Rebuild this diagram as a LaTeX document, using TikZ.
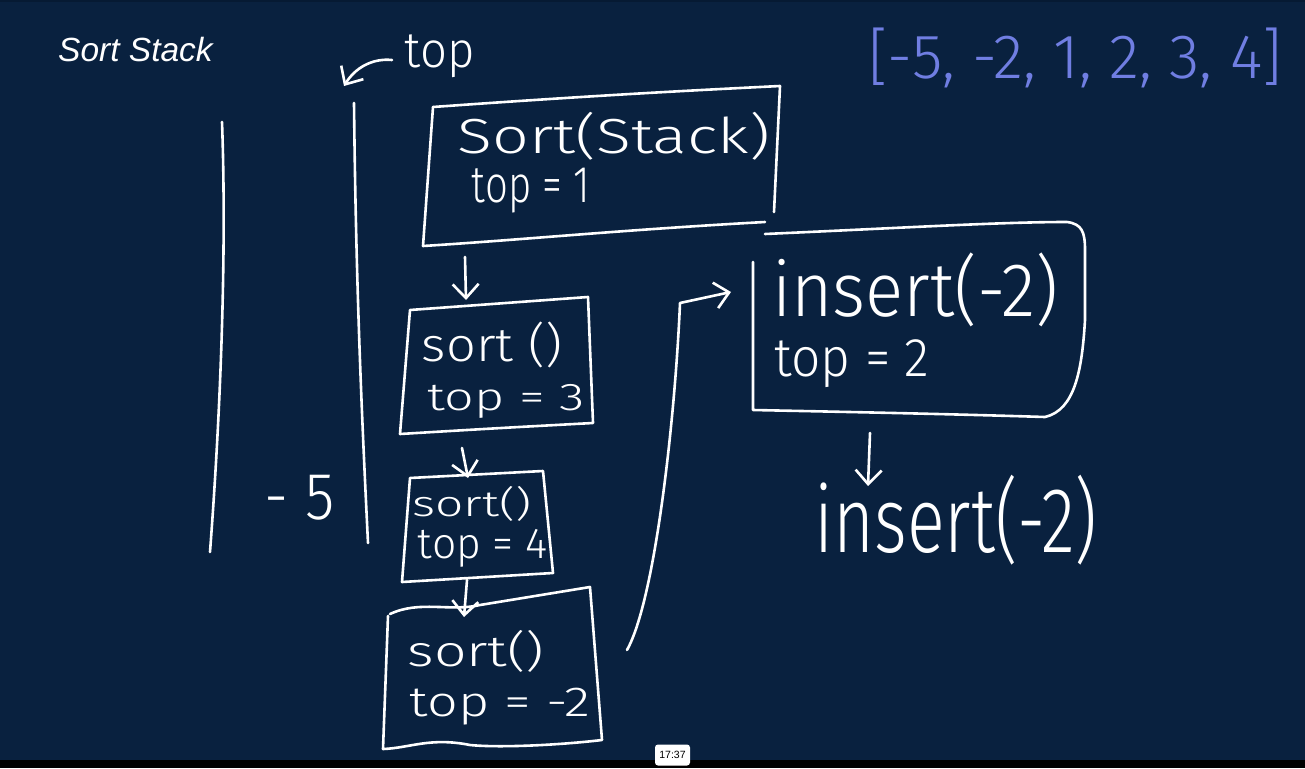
\documentclass[tikz,border=0pt]{standalone}
\usepackage{fontspec}
\usepackage{graphicx}
\setmainfont{Liberation Sans}
\newfontfamily\hand{Fira Sans Light}
\usetikzlibrary{arrows.meta}
\definecolor{bg}{HTML}{09213F}
\definecolor{bgtop}{HTML}{061A33}
\definecolor{listblue}{HTML}{707EE2}
\newcommand{\fitto}[3]{\resizebox*{#1pt}{#2pt}{\hand #3}}
\tikzset{
  ink/.style={draw=white, line width=2.6pt, line cap=round, line join=round},
  inkarrow/.style={ink, -{Straight Barb[length=14pt,width=26pt,line width=2.6pt]}},
  txt/.style={inner sep=0pt, text=white, anchor=center},
  bluetxt/.style={inner sep=0pt, text=listblue, anchor=center}
}
\begin{document}
\begin{tikzpicture}[x=1pt,y=-1pt]
\useasboundingbox (0,0) rectangle (1305,768);
\fill[bg] (0,0) rectangle (1305,768);
\fill[bgtop] (0,0) rectangle (1305,2);
\fill[black] (0,760) rectangle (1305,768);

% title
\node[inner sep=0pt, anchor=base west, text=white, font=\itshape\fontsize{33.5}{40}\selectfont] (title) at (58,62) {Sort Stack};

% list
\node[bluetxt] (list) at (1075,58) {\resizebox*{414pt}{60pt}{\hand [-5, -2, 1, 2, 3, 4]}};

% stack
\draw[ink] (222,122) .. controls (227,257) and (220,420) .. (210,552);
\draw[ink] (354,103) .. controls (356,290) and (362,420) .. (368,543);
\node[txt] (m5) at (300,498) {\fitto{70}{45}{- 5}};

% top label and arrow
\node[txt] (toplbl) at (440,56) {\fitto{70}{43}{top}};
\coordinate (topA) at (392,60);
\coordinate (stacktop) at (344,86);
\draw[ink, -{Straight Barb[length=14pt,width=26pt,line width=2.6pt]}] (topA) .. controls (372,58) and (355,68) .. (stacktop);

% box 1
\draw[ink] (433,107) .. controls (600,95) and (700,90) .. (780,86) -- (774,212);
\draw[ink] (765,222) .. controls (620,230) and (520,240) .. (423,246) -- (433,107);
\node[txt] (b1a) at (614,136) {\fitto{312}{48}{Sort(Stack)}};
\node[txt] (b1b) at (531,191) {\fitto{118}{45}{top = 1}};

% box 2
\draw[ink] (410,310) -- (588,297) -- (593,423) .. controls (500,428) .. (400,434) -- (410,310);
\node[txt] (b2a) at (492,345) {\fitto{140}{46}{sort ()}};
\node[txt] (b2b) at (506,401) {\fitto{157}{34}{top = 3}};

% box 3
\draw[ink] (410,478) -- (543,471) -- (553,573) -- (402,582) -- cycle;
\node[txt] (b3a) at (472,504) {\fitto{119}{35}{sort()}};
\node[txt] (b3b) at (483,548) {\fitto{130}{38}{top = 4}};

% box 4
\draw[ink] (390,614) .. controls (420,600) and (450,612) .. (480,605) -- (590,587) -- (602,740) .. controls (560,745) and (500,748) .. (470,745) .. controls (430,737) and (410,748) .. (383,749) -- (388,616);
\node[txt] (b4a) at (476,651) {\fitto{137}{42}{sort()}};
\node[txt] (b4b) at (500,707) {\fitto{180}{37}{top = -2}};

% box 5
\draw[ink] (765,234) .. controls (900,228) and (1000,222) .. (1067,222) .. controls (1082,224) and (1085,232) .. (1085,250) -- (1085,320) .. controls (1082,370) and (1075,410) .. (1045,417) .. controls (950,414) and (850,412) .. (753,410) -- (753,262);
\node[txt] (b5a) at (915,290) {\fitto{286}{74}{insert(-2)}};
\node[txt] (b5b) at (852,364) {\fitto{155}{48}{top = 2}};

% second insert
\node[txt] (ins) at (956,520) {\fitto{283}{90}{insert(-2)}};

% connectors
\coordinate (b1s) at (465,257);
\coordinate (b2n) at (466,300);
\coordinate (b2s) at (462,448);
\coordinate (b3n) at (468,478);
\coordinate (b3s) at (467,580);
\coordinate (b4n) at (464,617);
\coordinate (b4e) at (627,650);
\coordinate (b5w) at (731,292);
\coordinate (b5s) at (870,433);
\coordinate (insn) at (868,486);
\draw[inkarrow] (b1s) -- (b2n);
\draw[inkarrow] (b2s) -- (b3n);
\draw[inkarrow] (b3s) -- (b4n);
\draw[inkarrow] (b5s) -- (insn);
\draw[inkarrow] (b4e) .. controls (655,600) and (675,420) .. (680,303) -- (b5w);

% timestamp
\node[inner sep=0pt, fill=white, rounded corners=3pt, minimum width=35pt, minimum height=21pt, font=\fontsize{10.5}{12}\selectfont, text=black] (ts) at (672.5,755) {17:37};
\end{tikzpicture}
\end{document}
